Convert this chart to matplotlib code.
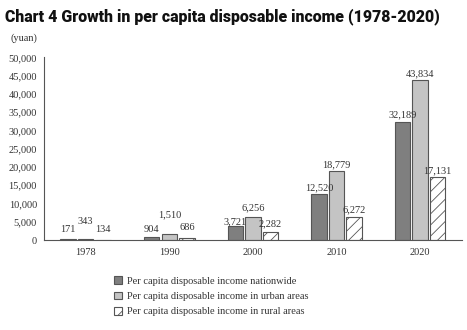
import matplotlib
matplotlib.use('Agg')
import matplotlib.pyplot as plt
import numpy as np

years = ['1978', '1990', '2000', '2010', '2020']
nationwide = [171, 904, 3721, 12520, 32189]
urban = [343, 1510, 6256, 18779, 43834]
rural = [134, 686, 2282, 6272, 17131]
series_names = ['Per capita disposable income nationwide',
                'Per capita disposable income in urban areas',
                'Per capita disposable income in rural areas']

# how far (px) each value label sits above its bar
lift_nat = [10, 7, 5, 7, 7.5]
lift_urb = [17, 20, 9, 7, 6]
lift_rur = [10, 10, 7.5, 7.5, 7]

plt.rcParams['font.family'] = ['Liberation Serif', 'DejaVu Serif']
txt = '#333333'

fig = plt.figure(figsize=(4.67, 3.3), dpi=100)
ax = fig.add_axes([0.094, 0.2727, 0.895, 0.5533])

x = np.arange(len(years))
w = 0.185
step = 0.21
styles = [
    dict(color='#7f7f7f', hatch=None),
    dict(color='#c4c4c4', hatch=None),
    dict(color='white', hatch='///'),
]
plt.rcParams['hatch.linewidth'] = 0.6
plt.rcParams['hatch.color'] = '#555555'

all_vals = [nationwide, urban, rural]
all_lifts = [lift_nat, lift_urb, lift_rur]
for i, (vals, lifts, st, name) in enumerate(zip(all_vals, all_lifts, styles, series_names)):
    pos = x + (i - 1) * step
    ax.bar(pos, vals, width=w, color=st['color'], hatch=st['hatch'],
           edgecolor='#555555', linewidth=0.8, label=name)
    for px, v, lf in zip(pos, vals, lifts):
        ax.annotate(f'{v:,}', (px, v), xytext=(0, lf * 0.72), textcoords='offset points',
                    ha='center', va='center', fontsize=7.5, color=txt)

ax.set_xlim(-0.5, 4.5)
ax.set_ylim(0, 50000)
ax.set_yticks(range(0, 50001, 5000))
ax.set_yticklabels([f'{v:,}' for v in range(0, 50001, 5000)])
ax.set_xticks(x)
ax.set_xticklabels(years)
ax.tick_params(length=0, labelsize=7.5, colors=txt)
ax.tick_params(axis='y', pad=5)
ax.tick_params(axis='x', pad=6)
for s in ['top', 'right']:
    ax.spines[s].set_visible(False)
for s in ['left', 'bottom']:
    ax.spines[s].set_color('#555555')
    ax.spines[s].set_linewidth(0.8)

fig.text(0.022, 0.885, '(yuan)', fontsize=7.5, color=txt, va='center')

title = fig.text(0.011, 0.936, 'Chart 4 Growth in per capita disposable income (1978-2020)',
                 family=['Roboto', 'DejaVu Sans'], fontweight='black', fontsize=12,
                 va='baseline', color='#111111')
fig.canvas.draw()
tw = title.get_window_extent().width
title.set_fontsize(12 * 435 / tw)

leg = fig.legend(loc='upper left', bbox_to_anchor=(0.235, 0.87 - 0.0), frameon=False,
                 fontsize=7.5, handlelength=0.8, handleheight=0.8, handletextpad=0.5,
                 labelspacing=0.55, borderaxespad=0)
for t in leg.get_texts():
    t.set_color(txt)
leg.set_bbox_to_anchor((0.235, 1 - 272 / 330), transform=fig.transFigure)

fig.savefig('out.png', dpi=100)
